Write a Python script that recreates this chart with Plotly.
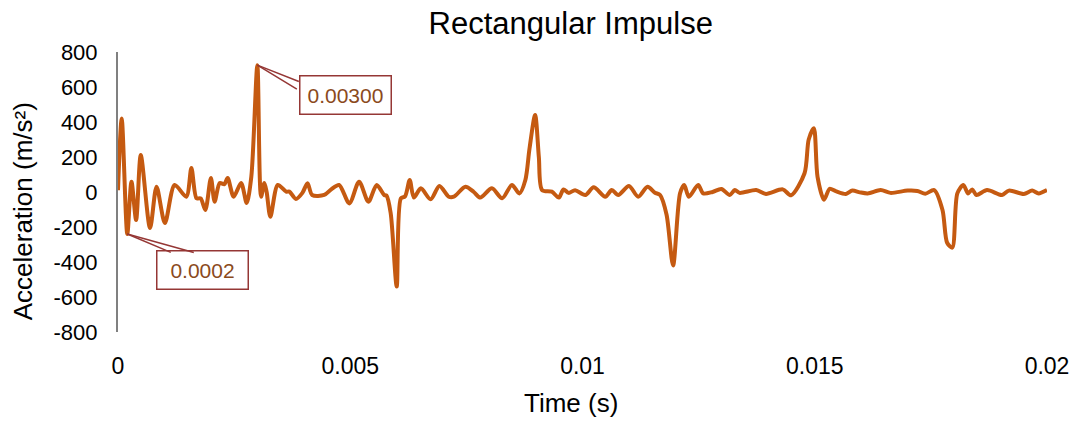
import plotly.graph_objects as go

time_s = [0, 0.00008, 0.0002, 0.00029, 0.00039, 0.00049, 0.00069, 0.00083, 0.00101, 0.00122,
          0.00147, 0.00158, 0.00169, 0.00178, 0.00188, 0.002, 0.00208, 0.00219, 0.00229, 0.00236,
          0.00249, 0.00265, 0.00277, 0.00287, 0.003, 0.00308, 0.00315, 0.0032, 0.00328, 0.00344,
          0.00362, 0.00369, 0.00383, 0.00397, 0.00408, 0.00418, 0.00444, 0.00459, 0.00476, 0.00498,
          0.00519, 0.00539, 0.00557, 0.00573, 0.00578, 0.00587, 0.006, 0.00609, 0.00618, 0.00628,
          0.00637, 0.00652, 0.00673, 0.00692, 0.00712, 0.00723, 0.00748, 0.00766, 0.0078, 0.00805,
          0.00827, 0.00848, 0.00864, 0.00877, 0.00886, 0.00898, 0.00906, 0.00913, 0.00934, 0.00949,
          0.00959, 0.0097, 0.00984, 0.01006, 0.01024, 0.01049, 0.01063, 0.01077, 0.011, 0.0112,
          0.0114, 0.01156, 0.01167, 0.01181, 0.01195, 0.0121, 0.01219, 0.01229, 0.01249, 0.0126,
          0.0128, 0.01299, 0.01317, 0.01328, 0.01338, 0.01374, 0.01395, 0.01431, 0.01449, 0.01478,
          0.01487, 0.01498, 0.01506, 0.0152, 0.01532, 0.01545, 0.01567, 0.01581, 0.01597, 0.01614,
          0.01642, 0.01663, 0.017, 0.01721, 0.01738, 0.01757, 0.01775, 0.01785, 0.01796, 0.01807,
          0.0182, 0.0183, 0.01839, 0.01848, 0.01871, 0.01903, 0.01918, 0.0195, 0.01968, 0.01982,
          0.02]
accel = [10, 420, -240, 59, -160, 211, -206, 30, -177, 40,
         -27, 137, -36, -36, -103, 80, -55, 51, 45, 80,
         -27, 51, -63, 87, 725, -27, 51, 0, -141, 40,
         2, 2, -40, -5, 50, -17, -17, 15, 40, -65,
         59, -55, 40, -17, -20, -120, -540, -36, -25, 69,
         -32, 21, -42, 34, -27, -27, 30, 0, -32, 21,
         -36, 40, -8, 69, 250, 440, 200, 11, 2, -32,
         15, -5, 10, -17, 27, -27, 11, -17, 34, -27,
         30, -4, -17, -130, -420, -8, 40, -27, 40, -8,
         0, 17, -17, 11, -5, 11, -11, 15, -19, 107,
         300, 364, 87, -44, 18, 5, -11, 8, -2, -8,
         11, -5, 8, 6, -10, 11, -103, -290, -318, -8,
         40, -8, 15, -17, 11, -17, 8, -11, 8, -8,
         11]

x_ticks = [0, 0.005, 0.01, 0.015, 0.02]
x_tick_labels = ["0", "0.005", "0.01", "0.015", "0.02"]
y_ticks = [-800, -600, -400, -200, 0, 200, 400, 600, 800]
y_tick_labels = ["-800", "-600", "-400", "-200", "0", "200", "400", "600", "800"]

callout_t = [0.003, 0.0002]
callout_a = [725, -240]
callout_text = ["0.00300", "0.0002"]

FONT = "Liberation Sans, Arial, sans-serif"
LINE = "#C55A11"
BOX = "#953735"
TXT = "#8B4A1C"

fig = go.Figure()
fig.add_trace(go.Scatter(x=time_s, y=accel, mode="lines",
                         line=dict(color=LINE, width=4, shape="spline", smoothing=0.8),
                         showlegend=False, hoverinfo="skip"))

# callout 1 (peak)
fig.add_annotation(x=callout_t[0], y=callout_a[0], text=callout_text[0], showarrow=False,
                   xshift=88, yshift=-30, font=dict(family=FONT, size=21, color=TXT),
                   bordercolor=BOX, borderwidth=1.5, bgcolor="white", borderpad=7)
for ax, ay in [(43, 17), (41, 25)]:
    fig.add_annotation(x=callout_t[0], y=callout_a[0], text="", showarrow=True,
                       arrowhead=0, arrowwidth=1.5, arrowcolor=BOX, ax=ax, ay=ay,
                       font=dict(size=1))
# callout 2 (first minimum)
fig.add_annotation(x=callout_t[1], y=callout_a[1], text=callout_text[1], showarrow=False,
                   xshift=75, yshift=-36, font=dict(family=FONT, size=21, color=TXT),
                   bordercolor=BOX, borderwidth=1.5, bgcolor="white", borderpad=7, width=76)
for ax, ay in [(45, 19), (68, 19)]:
    fig.add_annotation(x=callout_t[1], y=callout_a[1], text="", showarrow=True,
                       arrowhead=0, arrowwidth=1.5, arrowcolor=BOX, ax=ax, ay=ay,
                       font=dict(size=1))

# axis titles
fig.add_annotation(text="Time (s)", xref="paper", yref="paper",
                   x=(572 - 118) / 932, y=-(403 - 332) / 280, xanchor="center", yanchor="middle",
                   showarrow=False, font=dict(family=FONT, size=26, color="#000000"))
fig.add_annotation(text="Acceleration (m/s²)", xref="paper", yref="paper",
                   x=-(118 - 23) / 932, y=(332 - 211) / 280, xanchor="center", yanchor="middle",
                   textangle=-90, showarrow=False,
                   font=dict(family=FONT, size=26, color="#000000"))

fig.update_layout(
    width=1081, height=421,
    margin=dict(l=118, r=31, t=52, b=89),
    paper_bgcolor="white", plot_bgcolor="white",
    font=dict(family=FONT, color="#000000"),
    title=dict(text="Rectangular Impulse", x=0.528, xref="container", xanchor="center",
               y=1 - 23 / 421, yref="container", yanchor="middle",
               font=dict(family=FONT, size=31, color="#000000")),
)
fig.update_xaxes(range=[0, 0.02], tickvals=x_ticks, ticktext=x_tick_labels,
                 showgrid=False, zeroline=False, showline=False,
                 ticks="outside", ticklen=13, tickcolor="rgba(0,0,0,0)",
                 tickfont=dict(family=FONT, size=23, color="#000000"))
fig.update_yaxes(range=[-800, 800], tickvals=y_ticks, ticktext=y_tick_labels,
                 showgrid=False, zeroline=False, showline=True, linecolor="#808080", linewidth=2,
                 ticks="outside", ticklen=14, tickcolor="rgba(0,0,0,0)",
                 tickfont=dict(family=FONT, size=22, color="#000000"))

fig.write_html("out.html")
